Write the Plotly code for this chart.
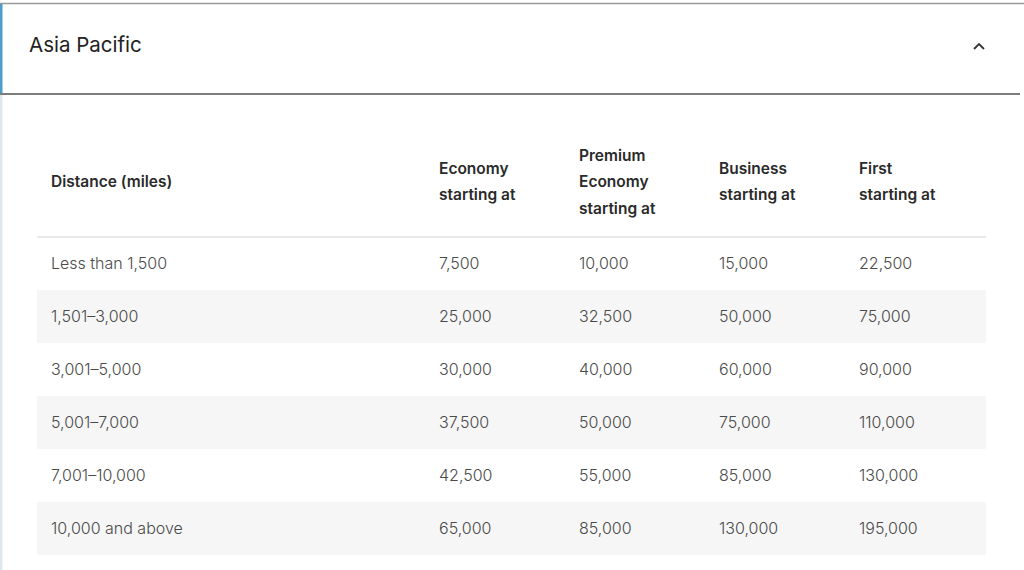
import plotly.graph_objects as go

title = "Asia Pacific"
headers = [["Distance (miles)"], ["Economy", "starting at"], ["Premium", "Economy", "starting at"],
           ["Business", "starting at"], ["First", "starting at"]]
distances = ["Less than 1,500", "1,501–3,000", "3,001–5,000", "5,001–7,000",
             "7,001–10,000", "10,000 and above"]
economy = ["7,500", "25,000", "30,000", "37,500", "42,500", "65,000"]
premium = ["10,000", "32,500", "40,000", "50,000", "55,000", "85,000"]
business = ["15,000", "50,000", "60,000", "75,000", "85,000", "130,000"]
first = ["22,500", "75,000", "90,000", "110,000", "130,000", "195,000"]

columns = [distances, economy, premium, business, first]

W, H = 1024, 570
FONT = "Inter, Lato, sans-serif"

# layout geometry (text anchors compensate for annotation padding)
col_x = [49, 437, 577, 717, 857]
tbl_left, tbl_right = 37, 986
head_top, head_bot = 130, 237
row_h = 53
line_gap = 26.5
text_dy = -1

fig = go.Figure()
shapes = []
annotations = []

# accordion frame
shapes.append(dict(type="line", x0=0, x1=W, y0=3.5, y1=3.5, line=dict(color="#9a9a9a", width=1.5)))
shapes.append(dict(type="line", x0=0, x1=1020, y0=94, y1=94, line=dict(color="#7c7c7c", width=2)))
shapes.append(dict(type="rect", x0=0, x1=2.5, y0=4, y1=93, fillcolor="#4d9ccb", line=dict(width=0)))
shapes.append(dict(type="rect", x0=0, x1=2.5, y0=95, y1=H, fillcolor="#dfe7ee", line=dict(width=0)))

annotations.append(dict(x=27, y=44, text=title, showarrow=False, xanchor="left", yanchor="middle",
                        font=dict(family=FONT, size=20.5, color="#222222")))
# chevron
shapes.append(dict(type="path", path="M 974 49 L 979 44 L 984 49",
                   line=dict(color="#333333", width=1.8)))

# header row
hy = (head_top + head_bot) / 2 - 1 + text_dy
for i, lines in enumerate(headers):
    n = len(lines)
    for k, txt in enumerate(lines):
        y = hy + (k - (n - 1) / 2) * line_gap
        annotations.append(dict(x=col_x[i], y=y, text=txt, showarrow=False, xanchor="left",
                                yanchor="middle", align="left",
                                font=dict(family=FONT, size=15.5, color="#2a2a2a", weight=600)))
shapes.append(dict(type="line", x0=tbl_left, x1=tbl_right, y0=head_bot, y1=head_bot,
                   line=dict(color="#e2e2e2", width=1.5)))

# body rows
for r in range(len(distances)):
    y0 = head_bot + r * row_h
    if r % 2 == 1:
        shapes.append(dict(type="rect", x0=tbl_left, x1=tbl_right, y0=y0, y1=y0 + row_h,
                           fillcolor="#f6f6f6", line=dict(width=0), layer="below"))
    for c, col in enumerate(columns):
        annotations.append(dict(x=col_x[c], y=y0 + row_h / 2 + text_dy, text=col[r], showarrow=False,
                                xanchor="left", yanchor="middle",
                                font=dict(family=FONT, size=16, color="#4a4a4a", weight=300)))

fig.update_layout(
    width=W, height=H, margin=dict(l=0, r=0, t=0, b=0),
    paper_bgcolor="white", plot_bgcolor="white",
    xaxis=dict(range=[0, W], visible=False, fixedrange=True),
    yaxis=dict(range=[H, 0], visible=False, fixedrange=True),
    shapes=shapes, annotations=annotations, showlegend=False,
)

fig.write_html("out.html", config={"displayModeBar": False},
               post_script="document.body.style.margin='0';document.body.style.overflow='hidden';")
